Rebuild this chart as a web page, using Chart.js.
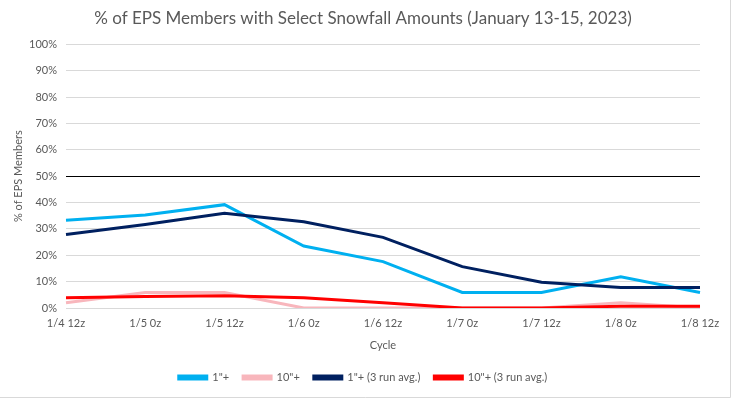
<!DOCTYPE html>
<html>
<head>
<meta charset="utf-8">
<script src="https://cdn.jsdelivr.net/npm/chart.js@4.4.0/dist/chart.umd.min.js"></script>
<style>
  html, body { margin: 0; padding: 0; background: #fff; }
  #wrap { width: 731px; height: 398px; position: relative; }
</style>
</head>
<body>
<div id="wrap"><canvas id="chart"></canvas></div>
<script>
// cycles along the x axis
var cycles = ['1/4 12z', '1/5 0z', '1/5 12z', '1/6 0z', '1/6 12z', '1/7 0z', '1/7 12z', '1/8 0z', '1/8 12z'];

// % of 51 EPS members
var oneInch = [33.3, 35.3, 39.2, 23.5, 17.6, 5.9, 5.9, 11.8, 5.9];
var tenInch = [2.0, 5.9, 5.9, 0, 0, 0, 0, 2.0, 0];
var oneInchAvg = [27.9, 31.7, 35.9, 32.7, 26.8, 15.7, 9.8, 7.8, 7.8];
var tenInchAvg = [3.9, 4.4, 4.6, 3.9, 2.0, 0, 0, 0.7, 0.7];

var yTicks = [0, 10, 20, 30, 40, 50, 60, 70, 80, 90, 100];

var textColor = '#595959';
var fontFamily = 'Lato, "Open Sans", sans-serif';

// thin grey frame on right and bottom edges like the original image
var framePlugin = {
    id: 'frame',
    afterDraw: function(chart) {
        var ctx = chart.ctx;
        ctx.save();
        ctx.strokeStyle = '#d9d9d9';
        ctx.lineWidth = 1;
        ctx.beginPath();
        ctx.moveTo(730.5, 0);
        ctx.lineTo(730.5, 397.5);
        ctx.lineTo(0, 397.5);
        ctx.stroke();
        ctx.restore();
    }
};

function series(label, data, color, order) {
    return {
        label: label,
        data: data,
        borderColor: color,
        backgroundColor: color,
        borderWidth: 3,
        pointRadius: 0,
        tension: 0,
        order: order
    };
}

new Chart(document.getElementById('chart'), {
    type: 'line',
    data: {
        labels: cycles,
        datasets: [
            series('1"+', oneInch, '#00b0f0', 2),
            series('10"+', tenInch, '#f8b6bc', 3),
            series('1"+ (3 run avg.)', oneInchAvg, '#002060', 1),
            series('10"+ (3 run avg.)', tenInchAvg, '#ff0000', 0)
        ]
    },
    options: {
        responsive: true,
        maintainAspectRatio: false,
        animation: false,
        layout: { padding: { left: 26, right: 31, top: 0, bottom: 5 } },
        plugins: {
            title: {
                display: true,
                text: '% of EPS Members with Select Snowfall Amounts (January 13-15, 2023)',
                color: textColor,
                font: { family: fontFamily, size: 17, weight: 'normal' },
                padding: { top: 8, bottom: 16 }
            },
            legend: {
                position: 'bottom',
                labels: {
                    color: textColor,
                    font: { family: fontFamily, size: 11 },
                    boxWidth: 28,
                    boxHeight: 3,
                    padding: 14,
                    sort: function(a, b) { return a.datasetIndex - b.datasetIndex; }
                }
            },
            tooltip: { enabled: false }
        },
        scales: {
            x: {
                grid: { display: false, drawTicks: false },
                border: { display: false },
                offset: false,
                ticks: {
                    color: textColor,
                    font: { family: fontFamily, size: 11 },
                    maxRotation: 0,
                    padding: 9
                },
                title: {
                    display: true,
                    text: 'Cycle',
                    color: textColor,
                    font: { family: fontFamily, size: 11 },
                    padding: { top: 4, bottom: 6 }
                },
                afterFit: function(scale) { scale.height = 50; }
            },
            y: {
                min: 0,
                max: 100,
                afterBuildTicks: function(scale) {
                    scale.ticks = yTicks.map(function(v) { return { value: v }; });
                },
                grid: {
                    color: function(c) { return c.tick && c.tick.value === 50 ? '#000000' : '#d9d9d9'; },
                    lineWidth: 1,
                    drawTicks: false
                },
                border: { display: false },
                ticks: {
                    color: textColor,
                    font: { family: fontFamily, size: 11 },
                    padding: 9,
                    callback: function(v) { return v + '%'; }
                },
                title: {
                    display: true,
                    text: '% of EPS Members',
                    color: textColor,
                    font: { family: fontFamily, size: 11 },
                    padding: { top: -14, bottom: 0 }
                },
                afterFit: function(scale) { scale.width = 40; }
            }
        }
    },
    plugins: [framePlugin]
});
</script>
</body>
</html>
